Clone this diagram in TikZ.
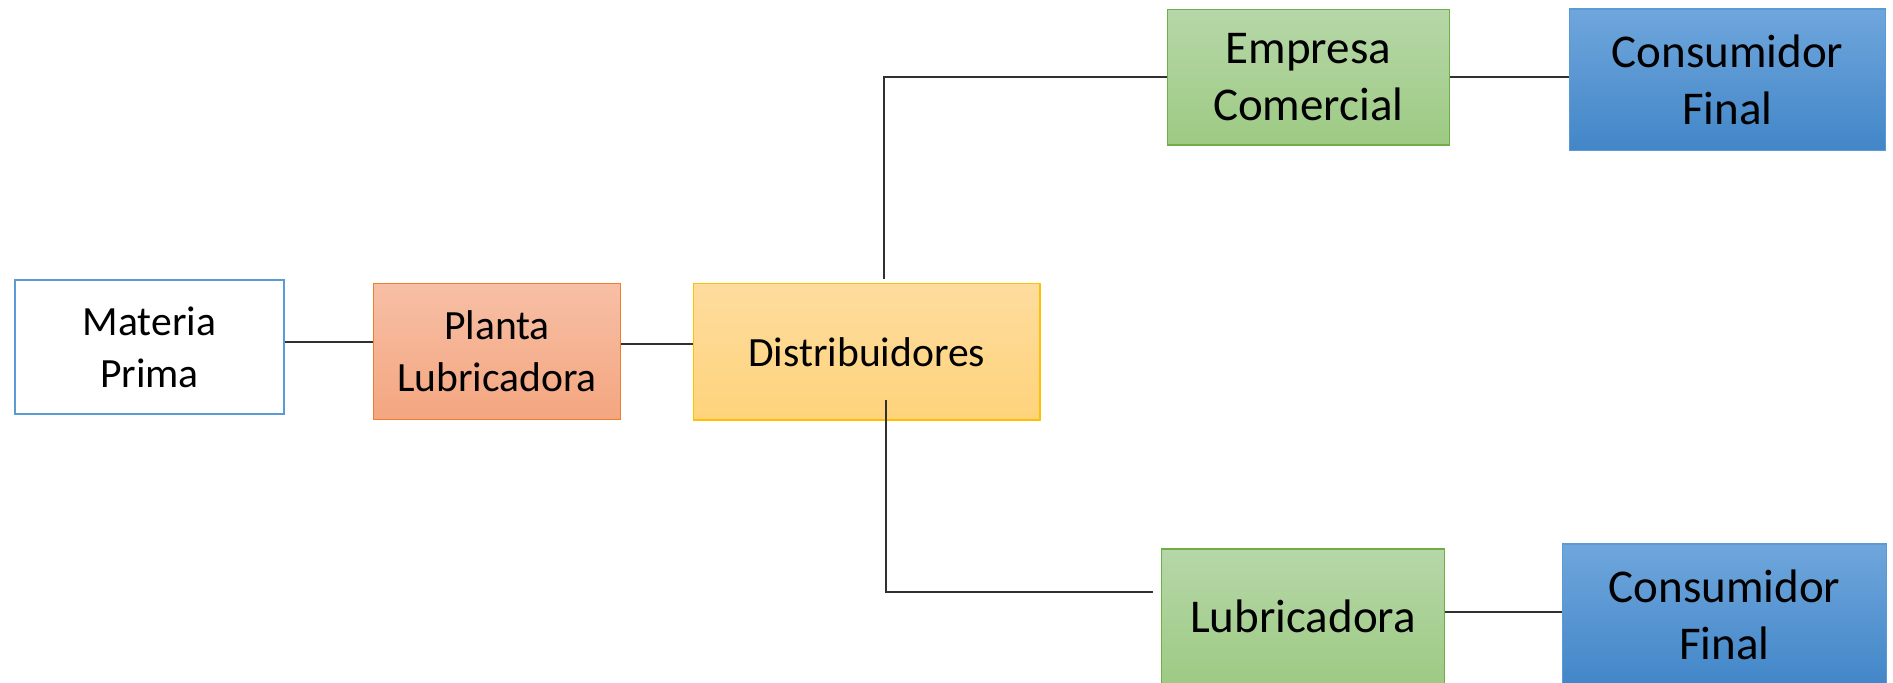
\documentclass[tikz,border=0pt]{standalone}
\usepackage{fontspec}
\setmainfont{Carlito}
\definecolor{bluebd}{HTML}{5B9BD5}
\definecolor{orangebd}{HTML}{ED7D31}
\definecolor{orangetop}{HTML}{F7BFA6}
\definecolor{orangebot}{HTML}{F4A67F}
\definecolor{goldbd}{HTML}{FFC000}
\definecolor{goldtop}{HTML}{FEDC9E}
\definecolor{goldbot}{HTML}{FED37B}
\definecolor{greenbd}{HTML}{70AD47}
\definecolor{greentop}{HTML}{B6D7A8}
\definecolor{greenbot}{HTML}{9DCA83}
\definecolor{bluetop}{HTML}{6FA6DC}
\definecolor{bluebot}{HTML}{4286C8}
\definecolor{linkgray}{HTML}{303030}
\tikzset{
  box/.style={rectangle, inner sep=0pt, align=center, line width=0.6pt,
    font=\fontsize{20.8pt}{26.2pt}\selectfont},
  bigtext/.style={font=\fontsize{23.5pt}{28.6pt}\selectfont},
  plainbox/.style={box, draw=bluebd, fill=white, line width=1.1pt},
  plantbox/.style={box, draw=orangebd, top color=orangetop, bottom color=orangebot},
  distbox/.style={box, draw=goldbd, top color=goldtop, bottom color=goldbot},
  greenbox/.style={box, bigtext, draw=greenbd, top color=greentop, bottom color=greenbot},
  bluebox/.style={box, bigtext, draw=bluebd, top color=bluetop, bottom color=bluebot},
  link/.style={draw=linkgray, line width=0.65pt}
}
\begin{document}
\begin{tikzpicture}[x=0.5pt, y=-0.5pt]
  \clip (0,0) rectangle (1893,683);
  \fill[white] (0,0) rectangle (1893,683);

  % boxes
  \node[plainbox, minimum width=134.5pt, minimum height=67.15pt] (mp) at (149.5,347.15) {Materia\\Prima};
  \node[plantbox, minimum width=123.7pt, minimum height=68pt] (pl) at (497,351.3) {Planta\\Lubricadora};
  \node[distbox, minimum width=173.25pt, minimum height=68.25pt] (di) at (866.75,351.75) {Distribuidores};
  \node[greenbox, minimum width=141pt, minimum height=67.85pt] (ec) at (1308.3,77.15) {Empresa\\Comercial};
  \node[bluebox, minimum width=158.2pt, minimum height=70.85pt] (cf1) at (1727.5,79.85) {Consumidor\\Final};
  \node[greenbox, minimum width=141.3pt, minimum height=67.85pt] (lu) at (1303,616.85) {Lubricadora};
  \node[bluebox, minimum width=162pt, minimum height=71pt] (cf2) at (1724.5,615) {Consumidor\\Final};

  % connector rows and free ends
  \coordinate (r1) at (0,342);
  \coordinate (r2) at (0,344);
  \coordinate (r3) at (0,612);
  \coordinate (up) at (884,279);
  \coordinate (dn) at (886,400);
  \coordinate (dncorner) at (886,592);

  % connectors
  \draw[link] (mp.east |- r1) -- (pl.west |- r1);
  \draw[link] (pl.east |- r2) -- (di.west |- r2);
  \draw[link] (up) |- (ec.west);
  \draw[link] (ec.east) -- (cf1.west |- ec.east);
  \draw[link] (dn) -- (dncorner) -- ([xshift=-4]lu.west |- dncorner);
  \draw[link] (lu.east |- r3) -- (cf2.west |- r3);
\end{tikzpicture}
\end{document}
